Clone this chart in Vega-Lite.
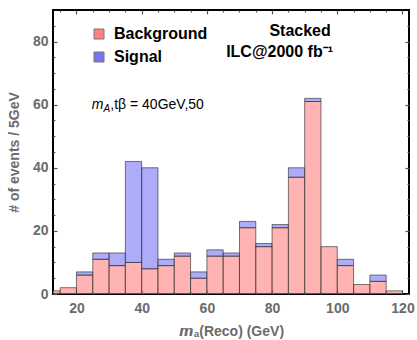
{
  "$schema": "https://vega.github.io/schema/vega-lite/v6.json",
  "width": 356,
  "height": 284,
  "autosize": {"type": "none"},
  "padding": {"left": 53, "top": 10, "right": 8, "bottom": 46},
  "config": {
    "font": "Liberation Sans",
    "view": {"stroke": "black", "strokeWidth": 2},
    "axis": {
      "domain": false,
      "grid": false,
      "zindex": 1,
      "tickColor": "#555555",
      "tickWidth": 1.2,
      "labelFont": "Liberation Sans",
      "labelFontWeight": "bold",
      "labelFontSize": 14,
      "labelColor": "#6b6b6b",
      "titleFont": "Liberation Sans",
      "titleFontWeight": "bold",
      "titleFontSize": 14,
      "titleColor": "#6b6b6b"
    }
  },
  "datasets": {
    "hist": [
      {"lo": 10, "hi": 15, "type": "Background", "n": 1},
      {"lo": 15, "hi": 20, "type": "Background", "n": 2},
      {"lo": 20, "hi": 25, "type": "Background", "n": 6},
      {"lo": 20, "hi": 25, "type": "Signal", "n": 1},
      {"lo": 25, "hi": 30, "type": "Background", "n": 11},
      {"lo": 25, "hi": 30, "type": "Signal", "n": 2},
      {"lo": 30, "hi": 35, "type": "Background", "n": 9},
      {"lo": 30, "hi": 35, "type": "Signal", "n": 4},
      {"lo": 35, "hi": 40, "type": "Background", "n": 10},
      {"lo": 35, "hi": 40, "type": "Signal", "n": 32},
      {"lo": 40, "hi": 45, "type": "Background", "n": 8},
      {"lo": 40, "hi": 45, "type": "Signal", "n": 32},
      {"lo": 45, "hi": 50, "type": "Background", "n": 9},
      {"lo": 45, "hi": 50, "type": "Signal", "n": 2},
      {"lo": 50, "hi": 55, "type": "Background", "n": 12},
      {"lo": 50, "hi": 55, "type": "Signal", "n": 1},
      {"lo": 55, "hi": 60, "type": "Background", "n": 5},
      {"lo": 55, "hi": 60, "type": "Signal", "n": 2},
      {"lo": 60, "hi": 65, "type": "Background", "n": 12},
      {"lo": 60, "hi": 65, "type": "Signal", "n": 2},
      {"lo": 65, "hi": 70, "type": "Background", "n": 12},
      {"lo": 65, "hi": 70, "type": "Signal", "n": 1},
      {"lo": 70, "hi": 75, "type": "Background", "n": 21},
      {"lo": 70, "hi": 75, "type": "Signal", "n": 2},
      {"lo": 75, "hi": 80, "type": "Background", "n": 15},
      {"lo": 75, "hi": 80, "type": "Signal", "n": 1},
      {"lo": 80, "hi": 85, "type": "Background", "n": 21},
      {"lo": 80, "hi": 85, "type": "Signal", "n": 1},
      {"lo": 85, "hi": 90, "type": "Background", "n": 37},
      {"lo": 85, "hi": 90, "type": "Signal", "n": 3},
      {"lo": 90, "hi": 95, "type": "Background", "n": 61},
      {"lo": 90, "hi": 95, "type": "Signal", "n": 1},
      {"lo": 95, "hi": 100, "type": "Background", "n": 15},
      {"lo": 100, "hi": 105, "type": "Background", "n": 9},
      {"lo": 100, "hi": 105, "type": "Signal", "n": 2},
      {"lo": 105, "hi": 110, "type": "Background", "n": 3},
      {"lo": 110, "hi": 115, "type": "Background", "n": 4},
      {"lo": 110, "hi": 115, "type": "Signal", "n": 2},
      {"lo": 115, "hi": 120, "type": "Background", "n": 1}
    ],
    "anchor": [
      {"x": 20, "y": 0}, {"x": 120, "y": 80}
    ],
    "headline": [
      {"x": 88.6, "y": 83.3, "label": "Stacked"},
      {"x": 82.3, "y": 76.7, "label": "ILC@2000 fb⁻¹"}
    ],
    "params": [
      {"x": 24.7, "y": 60, "m": "m", "sub": "A", "rest": ",tβ = 40GeV,50"}
    ]
  },
  "resolve": {"axis": {"x": "independent", "y": "independent"}},
  "layer": [
    {
      "data": {"name": "hist"},
      "transform": [
        {"stack": "n", "groupby": ["lo"], "sort": [{"field": "type", "order": "ascending"}], "as": ["n0", "n1"]}
      ],
      "mark": {
        "type": "bar",
        "clip": true,
        "fillOpacity": 0.6,
        "stroke": "#333333",
        "strokeOpacity": 0.65,
        "strokeWidth": 1
      },
      "encoding": {
        "x": {
          "field": "lo",
          "type": "quantitative",
          "scale": {"domain": [12.8, 122], "nice": false, "zero": false},
          "axis": {
            "orient": "bottom",
            "title": "𝙢ₐ(Reco) (GeV)",
            "values": [20, 40, 60, 80, 100, 120],
            "tickSize": -4,
            "labelPadding": 11,
            "titlePadding": 9,
            "labelFlush": false
          }
        },
        "x2": {"field": "hi"},
        "y": {
          "field": "n1",
          "type": "quantitative",
          "scale": {"domain": [0, 90], "nice": false},
          "axis": {
            "orient": "left",
            "title": "# of events / 5GeV",
            "values": [0, 20, 40, 60, 80],
            "tickSize": -4,
            "labelPadding": 9,
            "titlePadding": 11,
            "labelFlush": false
          }
        },
        "y2": {"field": "n0"},
        "color": {
          "field": "type",
          "type": "nominal",
          "scale": {"domain": ["Background", "Signal"], "range": ["#FF8080", "#7474F5"]},
          "legend": {
            "title": null,
            "orient": "none",
            "legendX": 38,
            "legendY": 16,
            "symbolType": "square",
            "symbolSize": 100,
            "symbolOpacity": 1,
            "symbolFillOpacity": 1,
            "symbolStrokeColor": "#777777",
            "symbolStrokeWidth": 1,
            "labelFont": "Liberation Sans",
            "labelFontSize": 16,
            "labelFontWeight": "bold",
            "labelColor": "black",
            "labelOffset": 7,
            "rowPadding": 7,
            "padding": 0
          }
        }
      }
    },
    {
      "data": {"name": "anchor"},
      "mark": {"type": "point", "opacity": 0},
      "encoding": {
        "x": {
          "field": "x",
          "type": "quantitative",
          "axis": {"orient": "top", "title": null, "labels": false, "values": [20, 40, 60, 80, 100, 120], "tickSize": -4}
        },
        "y": {
          "field": "y",
          "type": "quantitative",
          "axis": {"orient": "right", "title": null, "labels": false, "values": [0, 20, 40, 60, 80], "tickSize": -4}
        }
      }
    },
    {
      "data": {"name": "anchor"},
      "mark": {"type": "point", "opacity": 0},
      "encoding": {
        "x": {
          "field": "x",
          "type": "quantitative",
          "axis": {"orient": "bottom", "title": null, "labels": false, "values": [15, 25, 30, 35, 45, 50, 55, 65, 70, 75, 85, 90, 95, 105, 110, 115], "tickSize": -2}
        },
        "y": {
          "field": "y",
          "type": "quantitative",
          "axis": {"orient": "left", "title": null, "labels": false, "values": [5, 10, 15, 25, 30, 35, 45, 50, 55, 65, 70, 75, 85], "tickSize": -2}
        }
      }
    },
    {
      "data": {"name": "anchor"},
      "mark": {"type": "point", "opacity": 0},
      "encoding": {
        "x": {
          "field": "x",
          "type": "quantitative",
          "axis": {"orient": "top", "title": null, "labels": false, "values": [15, 25, 30, 35, 45, 50, 55, 65, 70, 75, 85, 90, 95, 105, 110, 115], "tickSize": -2}
        },
        "y": {
          "field": "y",
          "type": "quantitative",
          "axis": {"orient": "right", "title": null, "labels": false, "values": [5, 10, 15, 25, 30, 35, 45, 50, 55, 65, 70, 75, 85], "tickSize": -2}
        }
      }
    },
    {
      "data": {"name": "headline"},
      "mark": {"type": "text", "font": "Liberation Sans", "fontSize": 16, "fontWeight": "bold", "color": "black", "align": "center", "baseline": "middle"},
      "encoding": {
        "x": {"field": "x", "type": "quantitative", "axis": null},
        "y": {"field": "y", "type": "quantitative", "axis": null},
        "text": {"field": "label"}
      }
    },
    {
      "data": {"name": "params"},
      "mark": {"type": "text", "font": "Liberation Sans", "fontSize": 14, "fontStyle": "italic", "color": "black", "align": "left", "baseline": "middle"},
      "encoding": {
        "x": {"field": "x", "type": "quantitative", "axis": null},
        "y": {"field": "y", "type": "quantitative", "axis": null},
        "text": {"field": "m"}
      }
    },
    {
      "data": {"name": "params"},
      "mark": {"type": "text", "font": "Liberation Sans", "fontSize": 10, "fontStyle": "italic", "color": "black", "align": "left", "baseline": "middle", "dx": 11.7, "dy": 4},
      "encoding": {
        "x": {"field": "x", "type": "quantitative", "axis": null},
        "y": {"field": "y", "type": "quantitative", "axis": null},
        "text": {"field": "sub"}
      }
    },
    {
      "data": {"name": "params"},
      "mark": {"type": "text", "font": "Liberation Sans", "fontSize": 14, "color": "black", "align": "left", "baseline": "middle", "dx": 18.5},
      "encoding": {
        "x": {"field": "x", "type": "quantitative", "axis": null},
        "y": {"field": "y", "type": "quantitative", "axis": null},
        "text": {"field": "rest"}
      }
    }
  ]
}
